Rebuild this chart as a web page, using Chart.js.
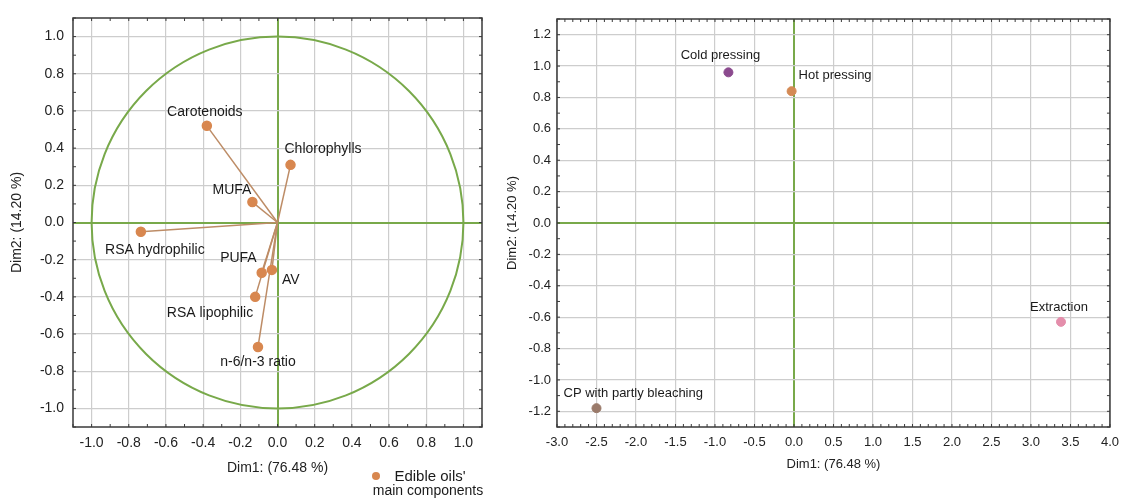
<!DOCTYPE html>
<html>
<head>
<meta charset="utf-8">
<script src="https://cdn.jsdelivr.net/npm/chart.js@4.4.1/dist/chart.umd.min.js"></script>
<style>
  body { margin:0; background:#fff; width:1122px; height:498px; overflow:hidden; font-family:"Liberation Sans", Arial, sans-serif; position:relative; }
  #leftBox { position:absolute; left:0; top:0; width:500px; height:498px; }
  #rightBox { position:absolute; left:500px; top:0; width:627px; height:498px; }
</style>
</head>
<body>
<div id="leftBox"><canvas id="loadings"></canvas></div>
<div id="rightBox"><canvas id="scores"></canvas></div>
<script>
// variables (correlation circle)
const varNames = ['Carotenoids','Chlorophylls','MUFA','RSA hydrophilic','PUFA','AV','RSA lipophilic','n-6/n-3 ratio'];
const varDim1 = [-0.38, 0.07, -0.135, -0.735, -0.085, -0.03, -0.12, -0.105];
const varDim2 = [0.52, 0.31, 0.11, -0.05, -0.27, -0.255, -0.40, -0.67];

// processing methods (scores)
const methodNames = ['Cold pressing','Hot pressing','CP with partly bleaching','Extraction'];
const methodDim1 = [-0.83, -0.03, -2.5, 3.38];
const methodDim2 = [0.96, 0.84, -1.18, -0.63];

// tick labels
const circleTicks = [-1.0,-0.8,-0.6,-0.4,-0.2,0.0,0.2,0.4,0.6,0.8,1.0];
const scoreXTicks = [-3.0,-2.5,-2.0,-1.5,-1.0,-0.5,0.0,0.5,1.0,1.5,2.0,2.5,3.0,3.5,4.0];
const scoreYTicks = [-1.2,-1.0,-0.8,-0.6,-0.4,-0.2,0.0,0.2,0.4,0.6,0.8,1.0,1.2];

const xTitle = 'Dim1: (76.48 %)';
const yTitle = 'Dim2: (14.20 %)';
const legendLines = ["Edible oils'", 'main components'];

const FONT = '"Liberation Sans", Arial, sans-serif';
const GREEN = '#78a94a';
const GRID = '#cdcdcd';
const FRAME = '#3a3a3a';
const ORANGE = '#d8874f';
const methodColors = ['#8b4a8e','#d48a55','#9a7a6a','#e48eab'];

Chart.defaults.font.family = FONT;
Chart.defaults.color = '#222';

function fixedTicks(values) {
  return function (scale) { scale.ticks = values.map(v => ({ value: v })); };
}

function gridOpts() {
  return {
    color: c => (c.tick && Math.abs(c.tick.value) < 1e-9) ? GREEN : GRID,
    lineWidth: c => (c.tick && Math.abs(c.tick.value) < 1e-9) ? 2 : 1.2,
    drawTicks: false,
  };
}

// frame + inward minor ticks
const framePlugin = {
  id: 'frame',
  afterDraw(chart, args, opts) {
    const { ctx, chartArea: a, scales } = chart;
    ctx.save();
    ctx.strokeStyle = FRAME;
    ctx.lineWidth = 1.5;
    ctx.strokeRect(a.left, a.top, a.right - a.left, a.bottom - a.top);
    ctx.lineWidth = 1;
    const xs = scales.x, ys = scales.y;
    for (let v = xs.min; v <= xs.max + 1e-9; v += opts.minorX) {
      const p = xs.getPixelForValue(v);
      ctx.beginPath();
      ctx.moveTo(p, a.top); ctx.lineTo(p, a.top + 3);
      ctx.moveTo(p, a.bottom); ctx.lineTo(p, a.bottom - 3);
      ctx.stroke();
    }
    for (let v = ys.min; v <= ys.max + 1e-9; v += opts.minorY) {
      const p = ys.getPixelForValue(v);
      ctx.beginPath();
      ctx.moveTo(a.left, p); ctx.lineTo(a.left + 3, p);
      ctx.moveTo(a.right, p); ctx.lineTo(a.right - 3, p);
      ctx.stroke();
    }
    ctx.restore();
  }
};

// unit circle
const circlePlugin = {
  id: 'unitCircle',
  beforeDatasetsDraw(chart) {
    const { ctx, scales } = chart;
    const cx = scales.x.getPixelForValue(0), cy = scales.y.getPixelForValue(0);
    const rx = scales.x.getPixelForValue(1) - cx, ry = cy - scales.y.getPixelForValue(1);
    ctx.save();
    ctx.strokeStyle = GREEN;
    ctx.lineWidth = 2;
    ctx.beginPath();
    ctx.ellipse(cx, cy, rx, ry, 0, 0, Math.PI * 2);
    ctx.stroke();
    ctx.restore();
  }
};

// point labels
const labelPlugin = {
  id: 'pointLabels',
  afterDatasetsDraw(chart, args, opts) {
    const { ctx } = chart;
    ctx.save();
    ctx.font = opts.size + 'px ' + FONT;
    ctx.fillStyle = '#1a1a1a';
    ctx.textBaseline = 'middle';
    opts.items.forEach(it => {
      const el = chart.getDatasetMeta(it.ds).data[it.idx];
      ctx.textAlign = it.align;
      ctx.fillText(it.text, el.x + it.dx, el.y + it.dy);
    });
    ctx.restore();
  }
};

// legend under left chart
const legendPlugin = {
  id: 'oilLegend',
  afterDraw(chart) {
    const { ctx } = chart;
    ctx.save();
    ctx.fillStyle = ORANGE;
    ctx.beginPath();
    ctx.arc(376, 476, 4, 0, Math.PI * 2);
    ctx.fill();
    ctx.fillStyle = '#1a1a1a';
    ctx.font = '15px ' + FONT;
    ctx.textAlign = 'center';
    ctx.textBaseline = 'middle';
    ctx.fillText(legendLines[0], 430, 477);
    ctx.font = '14px ' + FONT;
    ctx.fillText(legendLines[1], 428, 491);
    ctx.restore();
  }
};

// ---------- left chart: loadings ----------
const vecDatasets = varNames.map((n, i) => ({
  label: n,
  data: [{ x: 0, y: 0 }, { x: varDim1[i], y: varDim2[i] }],
  showLine: true,
  borderColor: '#bd8c66',
  borderWidth: 1.5,
  pointRadius: [0, 4.5],
  pointBackgroundColor: ORANGE,
  pointBorderColor: ORANGE,
}));

const leftPlace = [
  { dx: -2, dy: -14, align: 'center' },
  { dx: -6, dy: -16, align: 'left' },
  { dx: -1, dy: -12, align: 'right' },
  { dx: 14, dy: 18, align: 'center' },
  { dx: -5, dy: -15, align: 'right' },
  { dx: 10, dy: 10, align: 'left' },
  { dx: -2, dy: 16, align: 'right' },
  { dx: 0, dy: 15, align: 'center' },
];

new Chart(document.getElementById('loadings'), {
  type: 'scatter',
  data: { datasets: vecDatasets },
  options: {
    responsive: true,
    maintainAspectRatio: false,
    animation: false,
    layout: { padding: { top: 18, right: 18, left: 0, bottom: 0 } },
    plugins: {
      legend: { display: false },
      tooltip: { enabled: false },
      frame: { minorX: 0.1, minorY: 0.1 },
      pointLabels: {
        size: 14,
        items: varNames.map((n, i) => Object.assign({ ds: i, idx: 1, text: n }, leftPlace[i])),
      },
    },
    scales: {
      x: {
        min: -1.1, max: 1.1,
        afterBuildTicks: fixedTicks(circleTicks),
        afterFit: s => { s.height = 71; },
        grid: gridOpts(),
        border: { display: false },
        ticks: { padding: 8, font: { size: 14 }, color: '#222', callback: v => v.toFixed(1), maxRotation: 0 },
        title: { display: true, text: xTitle, font: { size: 14 }, color: '#222', padding: { top: 4, bottom: 21 } },
      },
      y: {
        min: -1.1, max: 1.1,
        afterBuildTicks: fixedTicks(circleTicks),
        afterFit: s => { s.width = 73; },
        grid: gridOpts(),
        border: { display: false },
        ticks: { padding: 9, font: { size: 14 }, color: '#222', callback: v => v.toFixed(1) },
        title: { display: true, text: yTitle, font: { size: 14 }, color: '#222', padding: { top: 9, bottom: 4 } },
      },
    },
  },
  plugins: [circlePlugin, labelPlugin, framePlugin, legendPlugin],
});

// ---------- right chart: scores ----------
const rightPlace = [
  { dx: -8, dy: -17, align: 'center' },
  { dx: 7, dy: -16, align: 'left' },
  { dx: -33, dy: -15, align: 'left' },
  { dx: -2, dy: -14, align: 'center' },
];

new Chart(document.getElementById('scores'), {
  type: 'scatter',
  data: {
    datasets: methodNames.map((n, i) => ({
      label: n,
      data: [{ x: methodDim1[i], y: methodDim2[i] }],
      pointRadius: 4.5,
      pointBackgroundColor: methodColors[i],
      pointBorderColor: methodColors[i],
    })),
  },
  options: {
    responsive: true,
    maintainAspectRatio: false,
    animation: false,
    layout: { padding: { top: 19, right: 7, left: 0, bottom: 0 } },
    plugins: {
      legend: { display: false },
      tooltip: { enabled: false },
      frame: { minorX: 0.1, minorY: 0.1 },
      pointLabels: {
        size: 13,
        items: methodNames.map((n, i) => Object.assign({ ds: i, idx: 0, text: n }, rightPlace[i])),
      },
    },
    scales: {
      x: {
        min: -3, max: 4,
        afterBuildTicks: fixedTicks(scoreXTicks),
        afterFit: s => { s.height = 71; },
        grid: gridOpts(),
        border: { display: false },
        ticks: { padding: 8, font: { size: 13 }, color: '#222', callback: v => v.toFixed(1), maxRotation: 0, autoSkip: false },
        title: { display: true, text: xTitle, font: { size: 13 }, color: '#222', padding: { top: 4, bottom: 26 } },
      },
      y: {
        min: -1.3, max: 1.3,
        afterBuildTicks: fixedTicks(scoreYTicks),
        afterFit: s => { s.width = 57; },
        grid: gridOpts(),
        border: { display: false },
        ticks: { padding: 6, font: { size: 13 }, color: '#222', callback: v => v.toFixed(1), autoSkip: false },
        title: { display: true, text: yTitle, font: { size: 13 }, color: '#222', padding: { top: 5, bottom: 4 } },
      },
    },
  },
  plugins: [labelPlugin, framePlugin],
});
</script>
</body>
</html>
